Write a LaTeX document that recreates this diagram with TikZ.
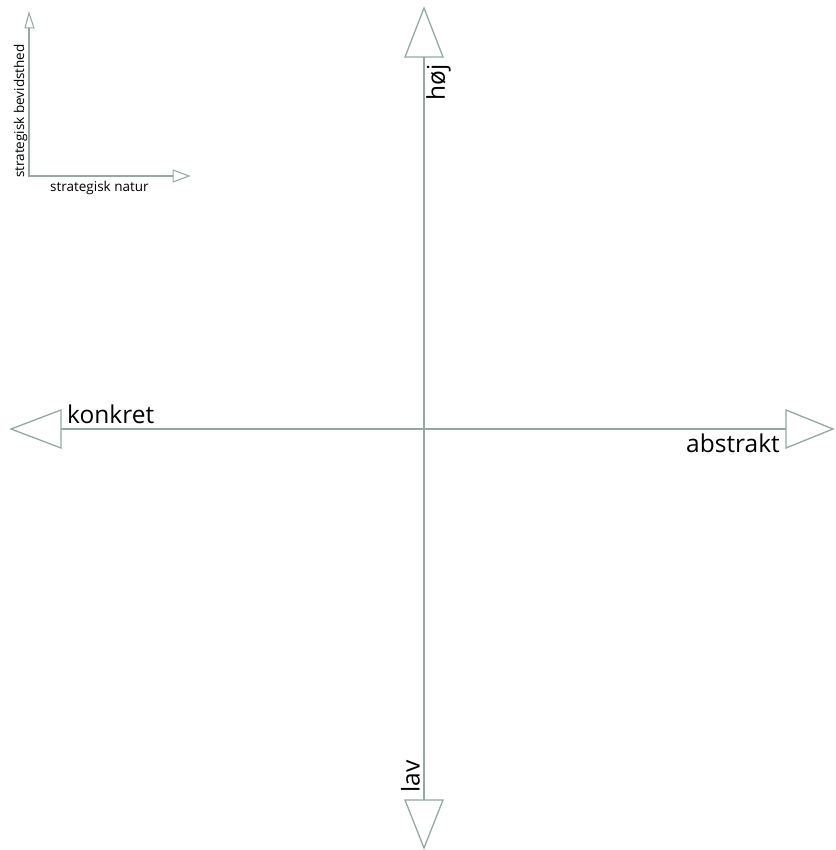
\documentclass[tikz,border=0pt]{standalone}
\usepackage{fontspec}
\setmainfont{Open Sans}
\definecolor{axisgray}{RGB}{150,168,163}
\tikzset{
  ax/.style={draw=axisgray, line width=1.3pt},
  head/.style={draw=axisgray, line width=1.3pt, fill=white, line join=miter},
  bigl/.style={inner sep=0pt, font=\fontsize{24.5}{28}\selectfont},
  smalll/.style={inner sep=0pt, font=\fontsize{13.5}{16}\selectfont},
}
\begin{document}
\begin{tikzpicture}[x=1pt,y=-1pt]
\useasboundingbox (0,0) rectangle (835,850);
% main axes
\coordinate (top) at (424,57);
\coordinate (bot) at (424,800);
\coordinate (lft) at (61,429);
\coordinate (rgt) at (786,429);
\draw[ax] (top) -- (bot);
\draw[ax] (lft) -- (rgt);
\draw[head] (405,57) -- (424,8) -- (443,57) -- cycle;
\draw[head] (405,800) -- (424,848) -- (443,800) -- cycle;
\draw[head] (61,410) -- (11,429) -- (61,448) -- cycle;
\draw[head] (786,410) -- (833,429) -- (786,448) -- cycle;
\node[bigl, rotate=90, anchor=north east] (hoj) at (426,64) {høj};
\node[bigl, rotate=90, anchor=south west] (lav) at (420,793) {lav};
\node[bigl, anchor=base west] (konkret) at (67,423) {konkret};
\node[bigl, anchor=base east] (abstrakt) at (780,452) {abstrakt};
% small axes
\coordinate (o) at (29,176);
\coordinate (sy) at (29,28);
\coordinate (sx) at (173,176);
\draw[ax, line width=1.2pt] (sy) -- (o) -- (sx);
\draw[head, line width=1pt] (25,28) -- (29,13) -- (34,28) -- cycle;
\draw[head, line width=1pt] (173,170) -- (189,176) -- (173,182) -- cycle;
\node[smalll, anchor=base west] (nat) at (50,192) {strategisk natur};
\node[smalll, rotate=90, anchor=base west] (bev) at (24,178) {strategisk bevidsthed};
\end{tikzpicture}
\end{document}
